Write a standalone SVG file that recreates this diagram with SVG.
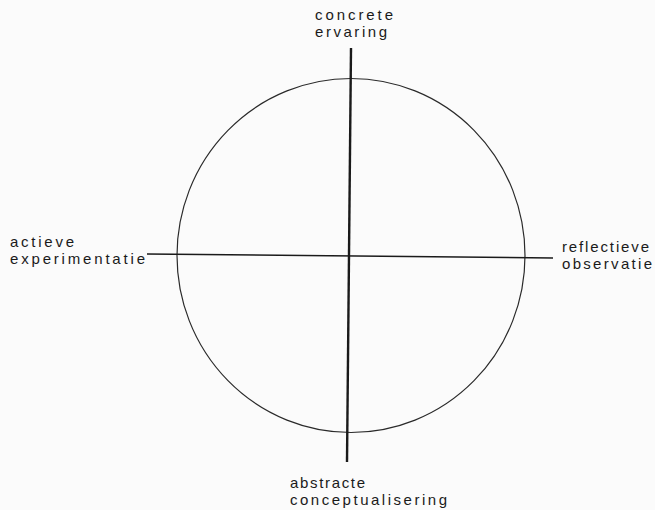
<svg xmlns="http://www.w3.org/2000/svg" width="655" height="510" viewBox="0 0 655 510">
  <style>
    .lbl { font-family: "Liberation Sans", Arial, sans-serif; font-size: 15px; fill: #1a1a1a; }
    .axis { stroke: #1a1a1a; fill: none; stroke-linecap: butt; }
    .ring { stroke: #2a2a2a; stroke-width: 1.2; fill: none; }
  </style>
  <rect x="0" y="0" width="655" height="510" fill="#fbfbfb"/>
  <g id="cycle">
    <ellipse class="ring" cx="351" cy="255.5" rx="174" ry="177"/>
  </g>
  <g id="connectors">
    <line class="axis" x1="351" y1="48" x2="347" y2="462" stroke-width="2.4"/>
    <line class="axis" x1="147" y1="254" x2="553" y2="258" stroke-width="1.5"/>
  </g>
  <g id="node-concrete-ervaring">
    <text class="lbl"><tspan x="315" y="20" textLength="78" lengthAdjust="spacing">concrete</tspan><tspan x="315" y="37" textLength="72" lengthAdjust="spacing">ervaring</tspan></text>
  </g>
  <g id="node-reflectieve-observatie">
    <text class="lbl"><tspan x="562" y="252" textLength="87" lengthAdjust="spacing">reflectieve</tspan><tspan x="562" y="269" textLength="90" lengthAdjust="spacing">observatie</tspan></text>
  </g>
  <g id="node-abstracte-conceptualisering">
    <text class="lbl"><tspan x="290" y="487.5" textLength="75" lengthAdjust="spacing">abstracte</tspan><tspan x="290" y="504.5" textLength="157" lengthAdjust="spacing">conceptualisering</tspan></text>
  </g>
  <g id="node-actieve-experimentatie">
    <text class="lbl"><tspan x="10" y="247" textLength="64" lengthAdjust="spacing">actieve</tspan><tspan x="10" y="264" textLength="135" lengthAdjust="spacing">experimentatie</tspan></text>
  </g>
</svg>
